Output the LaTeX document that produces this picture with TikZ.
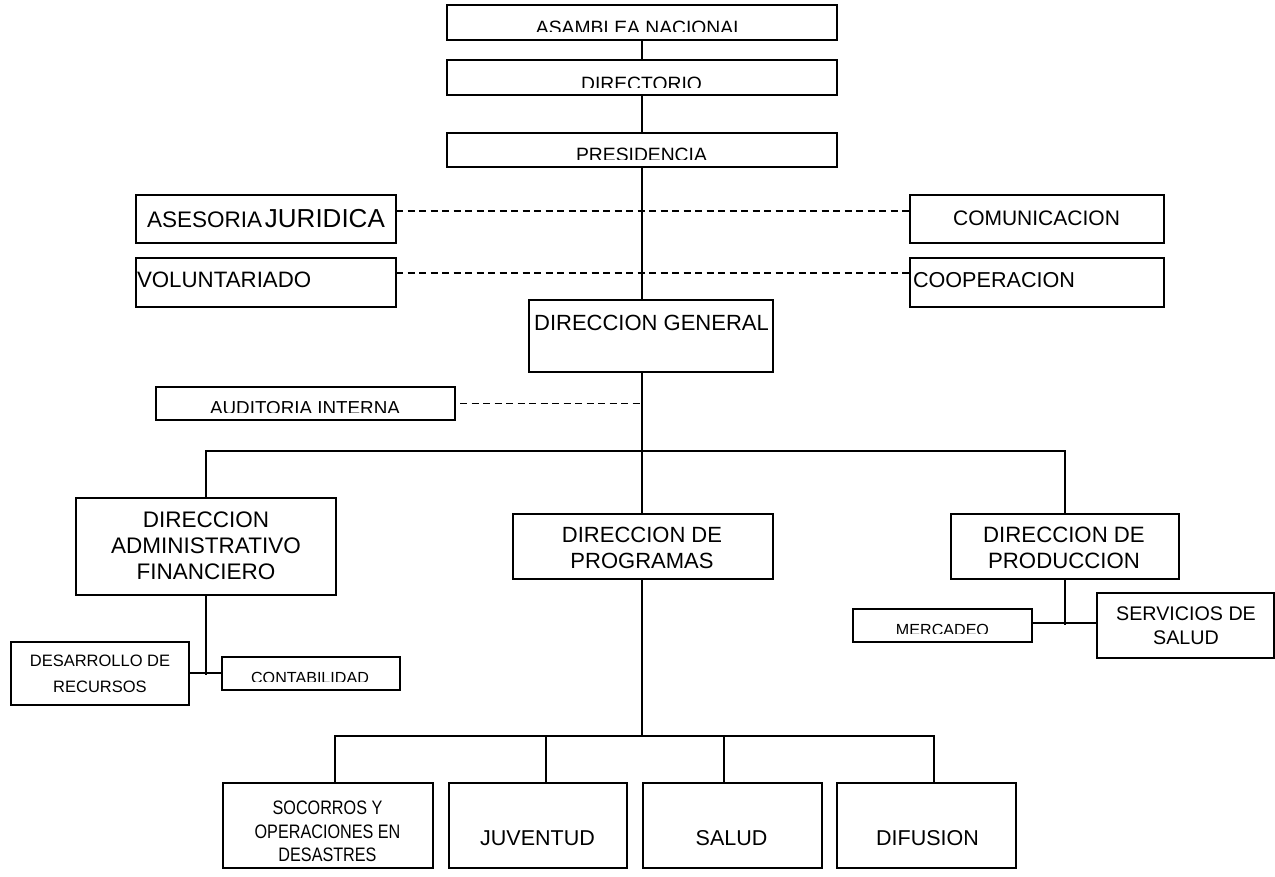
\documentclass[tikz,border=0pt]{standalone}
\usepackage{fontspec}
\setmainfont{Liberation Sans}
\newfontfamily\narrowsans[FakeStretch=0.83]{Liberation Sans}

% font size (px) and leading
\newcommand\fsz[2]{\fontsize{#1}{#2}\selectfont}

\tikzset{
  box/.style={draw=black, line width=1.6pt, fill=white, inner sep=0pt, outer sep=0pt},
  link/.style={draw=black, line width=1.6pt},
  dashlink/.style={draw=black, line width=1.4pt, dash pattern=on 7pt off 4.5pt},
  lbl/.style={inner sep=0pt, outer sep=0pt, text=black},
  mlbl/.style={lbl, align=center},
}

% \orgbox{name}{x1}{y1}{x2}{y2}: empty framed box between two corners
\newcommand\orgbox[5]{%
  \node[box, minimum width={(#4)-(#2)}, minimum height={(#5)-(#3)}]
    (#1) at ({((#2)+(#4))/2},{((#3)+(#5))/2}) {};}

\begin{document}
\begin{tikzpicture}[x=1pt,y=-1pt]
\useasboundingbox (0,0) rectangle (1275,877);
\fill[white] (0,0) rectangle (1275,877);

% ---------- boxes ----------
\orgbox{asamblea}{447}{5}{837}{40}
\orgbox{directorio}{447}{60}{837}{95}
\orgbox{presidencia}{447}{133}{837}{167}
\orgbox{asesoria}{136}{195}{396}{243}
\orgbox{voluntariado}{136}{258}{396}{307}
\orgbox{comunicacion}{910}{195}{1164}{243}
\orgbox{cooperacion}{910}{258}{1164}{307}
\orgbox{dgeneral}{529}{300}{773}{372}
\orgbox{auditoria}{156}{387}{455}{420}
\orgbox{daf}{76}{498}{336}{595}
\orgbox{dprog}{513}{514}{773}{579}
\orgbox{dprod}{951}{514}{1179}{579}
\orgbox{desarrollo}{11}{642}{189}{705}
\orgbox{contabilidad}{222}{657}{400}{690}
\orgbox{mercadeo}{853}{609}{1032}{642}
\orgbox{servicios}{1097}{593}{1274}{658}
\orgbox{socorros}{223}{783}{433}{868}
\orgbox{juventud}{449}{783}{627}{868}
\orgbox{salud}{643}{783}{822}{868}
\orgbox{difusion}{837}{783}{1016}{868}

% ---------- labels (text frames cut at the bottom) ----------
\begin{scope}
  \clip (447,5) rectangle (837,31.7);
  \node[lbl, anchor=base, font=\fsz{19.3}{23}] (asamblea-t) at (640,34.3) {ASAMBLEA NACIONAL};
\end{scope}
\begin{scope}
  \clip (447,60) rectangle (837,87.3);
  \node[lbl, anchor=base, font=\fsz{19.3}{23}] (directorio-t) at (641.5,90.3) {DIRECTORIO};
\end{scope}
\begin{scope}
  \clip (447,133) rectangle (837,159.3);
  \node[lbl, anchor=base, font=\fsz{19.3}{23}] (presidencia-t) at (641.5,161.8) {PRESIDENCIA};
\end{scope}
\begin{scope}
  \clip (156,387) rectangle (455,412);
  \node[lbl, anchor=base, font=\fsz{18.8}{23}] (auditoria-t) at (305,414.5) {AUDITORIA INTERNA};
\end{scope}
\begin{scope}
  \clip (222,657) rectangle (400,681);
  \node[lbl, anchor=base, font=\fsz{16.1}{20}] (contabilidad-t) at (310,683) {CONTABILIDAD};
\end{scope}
\begin{scope}
  \clip (853,609) rectangle (1032,633);
  \node[lbl, anchor=base, font=\fsz{16.1}{20}] (mercadeo-t) at (942.5,635) {MERCADEO};
\end{scope}

% ---------- labels ----------
\node[lbl, anchor=base] (asesoria-t) at (266,228)
  {{\fsz{22.5}{27}ASESORIA} {\fsz{26}{30}JURIDICA}};
\node[lbl, anchor=base west, font=\fsz{22.3}{27}] (voluntariado-t) at (137,288) {VOLUNTARIADO};
\node[lbl, anchor=base, font=\fsz{21}{26}] (comunicacion-t) at (1036.5,226) {COMUNICACION};
\node[lbl, anchor=base west, font=\fsz{21.6}{26}] (cooperacion-t) at (913,288) {COOPERACION};
\node[lbl, anchor=base, font=\fsz{22}{26}] (dgeneral-t) at (651.5,331) {DIRECCION GENERAL};
\node[mlbl, font=\fsz{22.5}{26}] (daf-t) at (206,546) {DIRECCION\\ADMINISTRATIVO\\FINANCIERO};
\node[mlbl, font=\fsz{22}{26}] (dprog-t) at (642,548.1) {DIRECCION DE\\PROGRAMAS};
\node[mlbl, font=\fsz{22.2}{26}] (dprod-t) at (1064,548.1) {DIRECCION DE\\PRODUCCION};
\node[mlbl, font=\fsz{16.5}{26}] (desarrollo-t) at (100,674.1) {DESARROLLO DE\\RECURSOS};
\node[mlbl, font=\fsz{19.7}{24}] (servicios-t) at (1186,626) {SERVICIOS DE\\SALUD};
\node[mlbl, font=\narrowsans\fsz{19.5}{23.5}] (socorros-t) at (327.5,831.5) {SOCORROS Y\\OPERACIONES EN\\DESASTRES};
\node[lbl, anchor=base, font=\fsz{21.5}{26}] (juventud-t) at (537.5,845) {JUVENTUD};
\node[lbl, anchor=base, font=\fsz{21.5}{26}] (salud-t) at (731.5,845) {SALUD};
\node[lbl, anchor=base, font=\fsz{21.5}{26}] (difusion-t) at (927.5,845) {DIFUSION};

% ---------- connectors ----------
\coordinate (split) at (642,451);
\coordinate (bus) at (642,736);

\draw[link] (asamblea.south -| split) -- (directorio.north -| split);
\draw[link] (directorio.south -| split) -- (presidencia.north -| split);
\draw[link] (presidencia.south -| split) -- (dgeneral.north -| split);
\draw[link] (dgeneral.south -| split) -- (split) -- (dprog.north -| split);

% staff units
\draw[dashlink] ([yshift=8pt]asesoria.east) -- ([yshift=8pt]comunicacion.west);
\draw[dashlink] ([yshift=9.5pt]voluntariado.east) -- ([yshift=9.5pt]cooperacion.west);
\draw[dashlink] ([xshift=5pt]auditoria.east) -- (auditoria.east -| split);

% line directorates
\draw[link] (daf.north) |- (split) -| (dprod.north);
\draw[link] (daf.south) -- ([yshift=-1.5pt]daf.south |- desarrollo.east);
\draw[link] ([yshift=0.5pt]desarrollo.east) -- ([yshift=0.5pt]contabilidad.west);
\draw[link] (dprod.south) -- ([yshift=0.5pt]dprod.south |- mercadeo.east);
\draw[link] ([yshift=2.5pt]mercadeo.east) -- ([yshift=2.5pt]servicios.west);

% programmes
\draw[link] (dprog.south -| split) -- (bus);
\draw[link] ([xshift=7pt]socorros.north) |- (bus) -| ([xshift=7.5pt]difusion.north);
\draw[link] ([xshift=8pt]juventud.north) -- ([xshift=8pt]juventud.north |- bus);
\draw[link] ([xshift=-8.5pt]salud.north) -- ([xshift=-8.5pt]salud.north |- bus);
\end{tikzpicture}
\end{document}
